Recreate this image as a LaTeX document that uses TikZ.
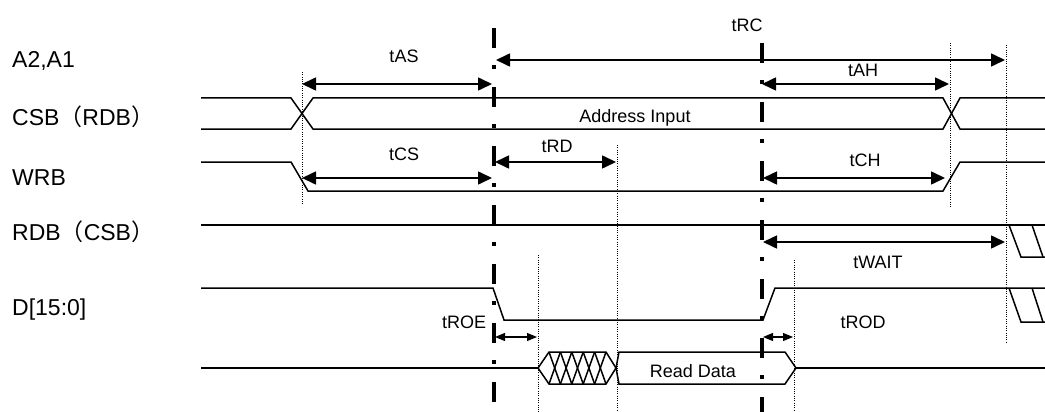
\documentclass[tikz,border=0pt]{standalone}
\usepackage{fontspec}
\setmainfont{Liberation Sans}
\newfontfamily\cjk{Noto Sans CJK SC}
\usetikzlibrary{arrows.meta}
\begin{document}
\begin{tikzpicture}[x=1pt,y=-1pt,
  sig/.style={line width=1.5pt, line join=miter},
  ddash/.style={line width=4.2pt, dash pattern=on 20pt off 17pt on 4pt off 18pt},
  dotl/.style={line width=1pt, dash pattern=on 1pt off 1.3pt},
  tarrow/.style={line width=1.6pt, {Triangle[length=14pt,width=13pt]}-{Triangle[length=14pt,width=13pt]}},
  sarrow/.style={line width=1.1pt, {Triangle[length=10pt,width=8pt]}-{Triangle[length=10pt,width=8pt]}},
  lab/.style={anchor=base west, inner sep=0pt, font=\fontsize{23}{27}\selectfont},
  tlab/.style={anchor=base, inner sep=0pt, font=\fontsize{18}{21}\selectfont}]
\useasboundingbox (0,0) rectangle (1045,412);

% signal names
\node[lab] (nA)  at (12,67)  {A2,A1};
\node[lab] (nCS) at (12,125) {CSB{\cjk （}RDB{\cjk ）}};
\node[lab] (nWR) at (12,185) {WRB};
\node[lab] (nRD) at (12,240) {RDB{\cjk （}CSB{\cjk ）}};
\node[lab] (nD)  at (12,315) {D[15:0]};

% CSB (address)
\draw[sig] (201,98) -- (291,98) -- (313,129) -- (943,129) -- (960,98) -- (1045,98);
\draw[sig] (201,129) -- (291,129) -- (313,98) -- (943,98) -- (960,129) -- (1045,129);
\node[tlab] (tAddr) at (635,122) {Address Input};

% WRB
\draw[sig] (201,162) -- (291,162) -- (308,191) -- (943,191) -- (960,162) -- (1045,162);

% RDB
\draw[sig] (201,225) -- (1045,225);
\draw[sig] (1009,225) -- (1021,257) -- (1045,257);
\draw[sig] (1032,225) -- (1043,257);

% D upper
\draw[sig] (201,288) -- (493,288) -- (504,320) -- (763,320) -- (775,288) -- (1045,288);
\draw[sig] (1009,288) -- (1021,322) -- (1045,322);
\draw[sig] (1032,288) -- (1043,322);

% D bus
\draw[sig] (201,368) -- (538,368);
\draw[sig] (538,368) -- (549,352) -- (606,352) -- (616,368) -- (606,384) -- (549,384) -- cycle;
\foreach \i in {0,...,4} {
  \draw[sig] ({549+11.4*\i},352) -- ({549+11.4*(\i+1)},384);
  \draw[sig] ({549+11.4*\i},384) -- ({549+11.4*(\i+1)},352);
}
\draw[sig] (616,368) -- (619,352) -- (785,352) -- (796,368) -- (785,384) -- (619,384) -- cycle;
\draw[sig] (796,368) -- (1045,368);
\node[tlab] (tData) at (693,377) {Read Data};

% dotted reference lines
\coordinate (d1t) at (302,72);   \coordinate (d1b) at (302,205);
\coordinate (d2t) at (950,43);   \coordinate (d2b) at (950,207);
\coordinate (d3t) at (1006,45);  \coordinate (d3b) at (1006,343);
\coordinate (d4t) at (617,145);  \coordinate (d4b) at (617,412);
\coordinate (d5t) at (538,255);  \coordinate (d5b) at (538,412);
\coordinate (d6t) at (794,260);  \coordinate (d6b) at (794,412);
\foreach \n in {1,...,6} { \draw[dotl] (d\n t) -- (d\n b); }

% thick dash-dot reference lines
\coordinate (Lt) at (494,28);  \coordinate (Lb) at (494,412);
\coordinate (Rt) at (762,43);  \coordinate (Rb) at (762,412);
\draw[ddash] (Lt) -- (Lb);
\draw[ddash] (Rt) -- (Rb);

% timing arrows
\draw[tarrow] (496,60) -- (1005,60);
\node[tlab] (tRC) at (747,32) {tRC};
\draw[tarrow] (302,84) -- (492,84);
\node[tlab] (tAS) at (404,63) {tAS};
\draw[tarrow] (762,84) -- (949,84);
\node[tlab] (tAH) at (863,77) {tAH};
\draw[tarrow] (302,178) -- (492,178);
\node[tlab] (tCS) at (404,160) {tCS};
\draw[tarrow] (495,162) -- (616,162);
\node[tlab] (tRD) at (557,152) {tRD};
\draw[tarrow] (763,178) -- (945,178);
\node[tlab] (tCH) at (865,166) {tCH};
\draw[tarrow] (763,242) -- (1005,242);
\node[tlab] (tWAIT) at (878,268) {tWAIT};
\draw[sarrow] (495,337) -- (537,337);
\node[tlab] (tROE) at (464,328) {tROE};
\draw[sarrow] (763,337) -- (793,337);
\node[tlab] (tROD) at (863,328) {tROD};
\end{tikzpicture}
\end{document}
